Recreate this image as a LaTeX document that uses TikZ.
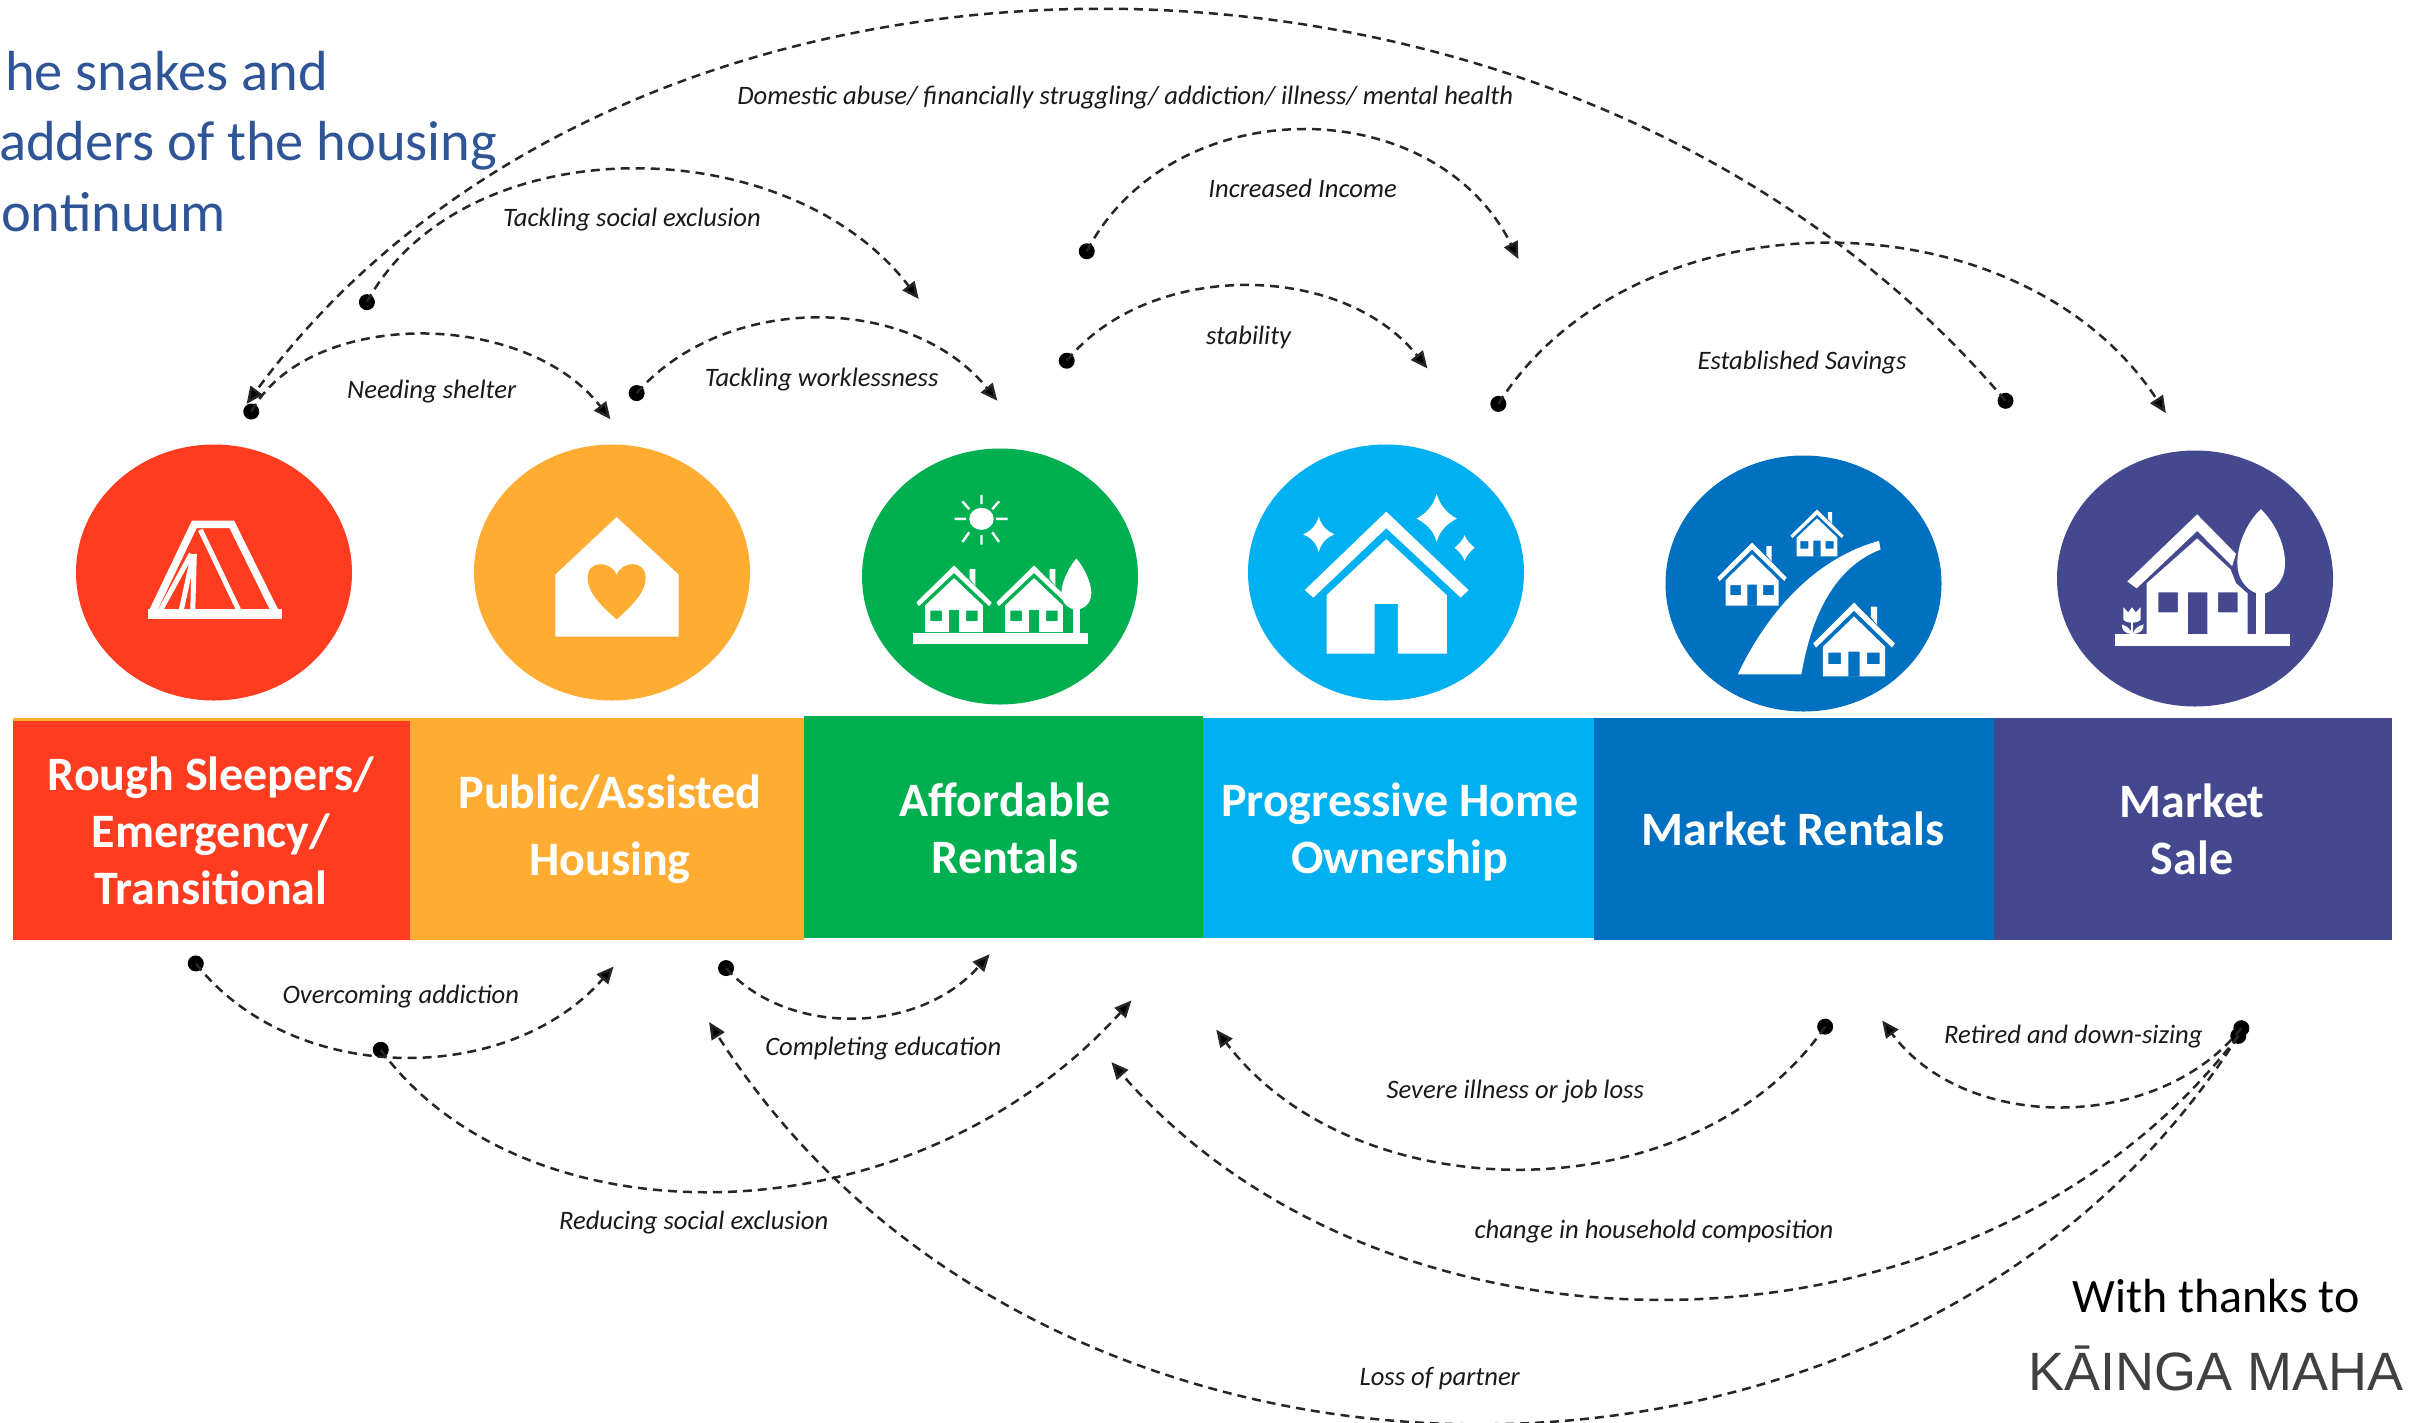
\documentclass[tikz,border=0pt]{standalone}
\usepackage{fontspec}
\setmainfont{Carlito}
\newfontfamily\kmfont{Liberation Sans}
\usetikzlibrary{arrows.meta,shapes.geometric}
\definecolor{cred}{HTML}{FF3C1F}
\definecolor{corange}{HTML}{FFAC33}
\definecolor{cgreen}{HTML}{00AF50}
\definecolor{clight}{HTML}{00B0F0}
\definecolor{cblue}{HTML}{0070C0}
\definecolor{cpurple}{HTML}{44488F}
\definecolor{ctitle}{HTML}{2F5597}
\tikzset{
  disc/.style={ellipse,inner sep=0pt,minimum width=276pt,minimum height=256pt},
  barbox/.style={rectangle,inner sep=0pt,anchor=north west},
  barlabel/.style={text=white,align=center,font=\fontsize{48}{57}\selectfont\bfseries},
  dot/.style={circle,fill=black,inner sep=0pt,minimum width=15pt,minimum height=16pt},
  link/.style={draw=black!85,line width=2.5pt,dash pattern=on 9pt off 6pt,-{Triangle[length=17pt,width=15pt,fill=black]}},
  lab/.style={text=black!90,font=\fontsize{26.6}{30}\selectfont\itshape,inner sep=0pt,yshift=-1.8pt},
  titletxt/.style={text=ctitle,anchor=base west,inner sep=0pt,font=\fontsize{56.5}{60}\selectfont}
}
\newcommand{\hicon}[5]{% apex x, apex y, half width, eave height, body-detail colour
  \begin{scope}[shift={(#1,#2)},x=#3pt,y=-#4pt]
    \fill[white] (0,0)--(1.02,1)--(.95,1.1)--(0,.2)--(-.95,1.1)--(-1.02,1)--cycle;
    \fill[white] (.42,.35)--(.42,.1)--(.58,.1)--(.58,.55)--cycle;
    \fill[white,even odd rule] (0,.34)--(.78,1.08)--(.78,1.8)--(-.78,1.8)--(-.78,1.08)--cycle
       (-.64,1.22) rectangle (-.33,1.5) (.33,1.22) rectangle (.64,1.5) (-.14,1.2) rectangle (.14,1.8);
  \end{scope}}
\begin{document}
\begin{tikzpicture}[x=1pt,y=-1pt]
\useasboundingbox (0,0) rectangle (2417,1422);
\fill[white] (0,0) rectangle (2417,1422);
% bars
\node[barbox,fill=corange,minimum width=791pt,minimum height=222pt] (barO) at (13,718) {};
\node[barbox,fill=cred,minimum width=397pt,minimum height=219pt] (barR) at (13,720.6) {};
\node[barbox,fill=cgreen,minimum width=399pt,minimum height=222pt] (barG) at (804,716) {};
\node[barbox,fill=clight,minimum width=391pt,minimum height=220pt] (barL) at (1203,718) {};
\node[barbox,fill=cblue,minimum width=400pt,minimum height=222pt] (barB) at (1594,718) {};
\node[barbox,fill=cpurple,minimum width=398pt,minimum height=222pt] (barP) at (1994,718) {};
% bar labels
\node[barlabel] (tR) at (211,831) {Rough Sleepers/\\Emergency/\\Transitional};
\node[barlabel,font=\fontsize{48}{67}\selectfont\bfseries] (tO) at (610,829) {Public/Assisted\\Housing};
\node[barlabel] (tG) at (1005,828) {Affordable\\Rentals};
\node[barlabel] (tL) at (1400,832) {Progressive Home\\Ownership};
\node[barlabel] (tB) at (1793,829) {Market Rentals};
\node[barlabel] (tP) at (2192,829) {Market\\Sale};
% discs
\node[disc,fill=cred] (cR) at (214,572.5) {};
\node[disc,fill=corange] (cO) at (612,572.5) {};
\node[disc,fill=cgreen] (cG) at (1000,576.5) {};
\node[disc,fill=clight] (cL) at (1386,572.5) {};
\node[disc,fill=cblue] (cB) at (1803.5,583.5) {};
\node[disc,fill=cpurple] (cP) at (2195,578.5) {};
% --- icons in zoom coordinates: left part
\begin{scope}[x=.765pt,y=-.344pt,shift={(0pt,-421.5pt)}]
  % tent
  \draw[white,line width=7.5pt,line join=miter] (199,555)--(254,299)--(303,299)--(360,555);
  \fill[white] (193,546) rectangle (368,575);
  \draw[white,line width=5pt] (250,385)--(210,548) (252,395)--(237,548) (254,385)--(252,548) (262,315)--(312,548);
  % heart house
  \fill[white] (806,278)--(887,445)--(887,625)--(726,625)--(726,445)--cycle;
  \fill[corange] (806,575) .. controls (780,525) and (768,490) .. (768,455)
     .. controls (768,400) and (800,405) .. (806,447)
     .. controls (812,405) and (844,400) .. (844,455)
     .. controls (844,490) and (832,525) .. (806,575) -- cycle;
  % sun
  \fill[white] (1283,283) ellipse [x radius=16,y radius=32];
  \draw[white,line width=2.4pt] (1283,213)--(1283,240) (1283,330)--(1283,358) (1248,283)--(1263,283) (1302,283)--(1317,283)
     (1258,232)--(1267,255) (1306,232)--(1297,255) (1258,350)--(1267,322) (1306,350)--(1297,322);
  % tree and ground of green icon
  \fill[white] (1407,398) .. controls (1395,430) and (1385,480) .. (1388,510) .. controls (1390,535) and (1400,547) .. (1407,547)
     .. controls (1414,547) and (1424,535) .. (1426,510) .. controls (1429,480) and (1419,430) .. (1407,398) -- cycle;
  \fill[white] (1403,540) rectangle (1412,620);
  \fill[white] (1194,615) rectangle (1422,648);
\end{scope}
\hicon{954}{565.5}{37}{37}{cgreen}
\hicon{1034}{565.5}{37}{37}{cgreen}
% --- icons in zoom coordinates: right part
\begin{scope}[x=.776pt,y=-.344pt,shift={(1200pt,-421.5pt)}]
  % light-blue house
  \fill[white] (240,262)--(346,490)--(336,512)--(240,310)--(146,512)--(135,490)--cycle;
  \fill[white] (240,342)--(318,505)--(318,675)--(255,675)--(255,530)--(225,530)--(225,675)--(163,675)--(163,505)--cycle;
  \fill[white] (153,275) .. controls (156,305) and (165,320) .. (173,328) .. controls (165,336) and (156,350) .. (153,380)
      .. controls (150,350) and (141,336) .. (133,328) .. controls (141,320) and (150,305) .. (153,275) -- cycle;
  \fill[white] (305,210) .. controls (309,245) and (320,270) .. (331,282) .. controls (320,295) and (309,315) .. (305,350)
      .. controls (301,315) and (290,295) .. (279,282) .. controls (290,270) and (301,245) .. (305,210) -- cycle;
  \fill[white] (341,330) .. controls (343,345) and (349,358) .. (354,367) .. controls (349,376) and (343,390) .. (341,405)
      .. controls (339,390) and (333,376) .. (328,367) .. controls (333,358) and (339,345) .. (341,330) -- cycle;
  % road
  \fill[white] (693,735) .. controls (730,560) and (790,400) .. (875,347) -- (877,372) .. controls (810,430) and (785,600) .. (775,735) -- cycle;
  % purple house
  \fill[white] (1179,618) rectangle (1405,653);
  \fill[white] (1285,270)--(1335,385)--(1330,420)--(1285,318)--(1207,485)--(1195,465)--cycle;
  \fill[white,even odd rule] (1285,340)--(1328,430)--(1335,470)--(1350,500)--(1350,618)--(1220,618)--(1220,470)--cycle
     (1235,497) rectangle (1260,555) (1312,497) rectangle (1337,555) (1273,497) rectangle (1298,618);
  \fill[white] (1367,255) .. controls (1350,290) and (1335,360) .. (1337,420) .. controls (1338,470) and (1355,500) .. (1367,502)
     .. controls (1380,500) and (1397,470) .. (1398,420) .. controls (1400,360) and (1384,290) .. (1367,255) -- cycle;
  \fill[white] (1361,495) rectangle (1372,620);
  \fill[white] (1190,540)--(1196,555)--(1201,540)--(1206,555)--(1212,540)--(1212,575) .. controls (1210,588) and (1192,588) .. (1190,575) -- cycle;
  \draw[white,line width=2pt] (1201,580)--(1201,620);
  \fill[white] (1188,590) .. controls (1195,595) and (1200,605) .. (1201,618) .. controls (1190,615) and (1188,605) .. (1188,590) -- cycle;
  \fill[white] (1216,590) .. controls (1208,595) and (1203,605) .. (1202,618) .. controls (1213,615) and (1216,605) .. (1216,590) -- cycle;
\end{scope}
\hicon{1817}{509.5}{26}{26}{cblue}
\hicon{1752}{542.5}{34}{35}{cblue}
\hicon{1854}{602.5}{40}{41}{cblue}
% title and credits
\node[titletxt] (t1) at (5,90) {he snakes and};
\node[titletxt] (t2) at (-1,160.5) {adders of the housing};
\node[titletxt] (t3) at (1,231.5) {ontinuum};
\node[font=\fontsize{48}{50}\selectfont,inner sep=0pt] (w) at (2216,1296) {With thanks to};
\node[font=\kmfont\fontsize{54}{58}\selectfont,text=black!75,inner sep=0pt] (km) at (2216,1368) {KĀINGA MAHA};
% connectors in display coordinates (1568 wide)
\begin{scope}[x=1.5415pt,y=-1.5415pt]
  \node[dot] (d1) at (163,267) {};
  \node[dot] (d2) at (238,196) {};
  \node[dot] (d3) at (1301,260) {};
  \node[dot] (d4) at (413,255) {};
  \node[dot] (d5) at (705,163) {};
  \node[dot] (d6) at (692,234) {};
  \node[dot] (d7) at (972,262) {};
  \node[dot] (d8) at (127,625) {};
  \node[dot] (d9) at (471,628) {};
  \node[dot] (d10) at (247,681) {};
  \node[dot] (d11) at (1452,672) {};
  \node[dot] (d13) at (1184,666) {};
  \node[dot] (d14) at (1454,667) {};
  \coordinate (e1) at (396,272);
  \coordinate (e2) at (596,194);
  \coordinate (e3) at (160,262);
  \coordinate (e4) at (647,260);
  \coordinate (e5) at (985,168);
  \coordinate (e6) at (926,239);
  \coordinate (e7) at (1405,268);
  \coordinate (e8) at (398,627);
  \coordinate (e9) at (642,619);
  \coordinate (e10) at (734,649);
  \coordinate (e11) at (460,663);
  \coordinate (e12) at (721,689);
  \coordinate (e13) at (789,668);
  \coordinate (e14) at (1221,662);
  \draw[link] (d1.center) .. controls (200,200) and (340,200) .. (e1);
  \draw[link] (d2.center) .. controls (300,82) and (510,82) .. (e2);
  \draw[link] (d3.center) .. controls (1015,-78) and (410,-78) .. (e3);
  \draw[link] (d4.center) .. controls (470,190) and (590,190) .. (e4);
  \draw[link] (d5.center) .. controls (760,58) and (930,58) .. (e5);
  \draw[link] (d6.center) .. controls (745,169) and (870,169) .. (e6);
  \draw[link] (d7.center) .. controls (1060,123) and (1310,123) .. (e7);
  \draw[link] (d8.center) .. controls (190,705) and (330,705) .. (e8);
  \draw[link] (d9.center) .. controls (510,672) and (595,672) .. (e9);
  \draw[link] (d10.center) .. controls (340,808) and (590,808) .. (e10);
  \draw[link] (d11.center) .. controls (1240,1008) and (680,1008) .. (e11);
  \draw[link] (d11.center) .. controls (1280,896) and (900,896) .. (e12);
  \draw[link] (d13.center) .. controls (1100,788) and (880,788) .. (e13);
  \draw[link] (d14.center) .. controls (1400,735) and (1275,735) .. (e14);
  \node[lab] (l1) at (280,253) {Needing shelter};
  \node[lab] (l2) at (410,141) {Tackling social exclusion};
  \node[lab] (l3) at (730,62) {Domestic abuse/ financially struggling/ addiction/ illness/ mental health};
  \node[lab] (l4) at (533,245) {Tackling worklessness};
  \node[lab] (l5) at (845,121) {Increased Income};
  \node[lab] (l6) at (810,218) {stability};
  \node[lab] (l7) at (1169,234) {Established Savings};
  \node[lab] (l8) at (260,645) {Overcoming addiction};
  \node[lab] (l9) at (573,679) {Completing education};
  \node[lab] (l10) at (450,792) {Reducing social exclusion};
  \node[lab] (l11) at (934,893) {Loss of partner};
  \node[lab] (l12) at (1073,798) {change in household composition};
  \node[lab] (l13) at (983,707) {Severe illness or job loss};
  \node[lab] (l14) at (1345,671) {Retired and down-sizing};
\end{scope}
\end{tikzpicture}
\end{document}
